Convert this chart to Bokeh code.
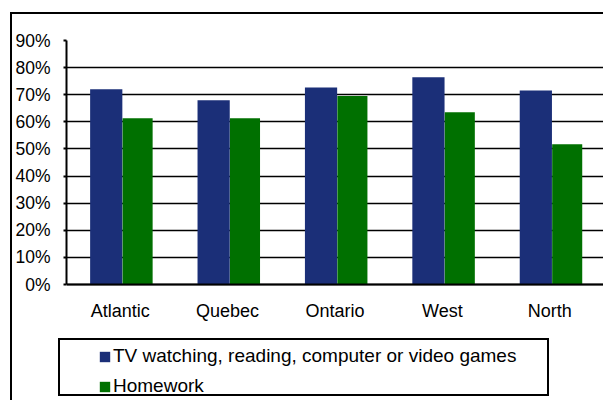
from bokeh.plotting import figure
from bokeh.models import (FactorRange, Range1d, FixedTicker, NumeralTickFormatter,
                          Legend, LegendItem, ColumnDataSource)
from bokeh.transform import dodge
from bokeh.embed import file_html
from bokeh.resources import INLINE

# ---- data ----
regions = ["Atlantic", "Quebec", "Ontario", "West", "North"]
leisure = [0.72, 0.68, 0.727, 0.764, 0.716]
homework = [0.613, 0.613, 0.695, 0.635, 0.517]
y_ticks = [0.0, 0.1, 0.2, 0.3, 0.4, 0.5, 0.6, 0.7, 0.8, 0.9]
series_names = ["TV watching, reading, computer or video games", "Homework"]

FONT = "Liberation Sans"
BLUE = "#1B2F78"
GREEN = "#007000"

source = ColumnDataSource(dict(region=regions, leisure=leisure, homework=homework))

# the frame reaches the bottom of the picture so that the legend can live inside it;
# the value axis covers 0..90 % over the top 244 px of the 360 px tall frame
p = figure(x_range=FactorRange(factors=regions, range_padding=0),
           y_range=Range1d(-0.9 * 116 / 244, 0.9),
           width=603, height=400, output_backend="svg", toolbar_location=None,
           min_border_left=66, min_border_right=0, min_border_top=40,
           min_border_bottom=0)

r1 = p.vbar(x=dodge("region", -0.13, range=p.x_range), top="leisure", width=0.30,
            source=source, fill_color=BLUE, line_color=None)
r2 = p.vbar(x=dodge("region", 0.162, range=p.x_range), top="homework", width=0.28,
            source=source, fill_color=GREEN, line_color=None)

p.outline_line_color = None
p.background_fill_color = None
p.border_fill_color = None

# chart frame (left/top edges only, the picture is cropped) and legend frame,
# painted as the page background behind the transparent canvas
layers = [
    ("2px 100%", "10px 12px"),      # outer frame, left edge
    ("100% 2px", "10px 12px"),      # outer frame, top edge
    ("2px 58px", "58px 338px"),     # legend frame, left
    ("2px 58px", "547px 338px"),    # legend frame, right
    ("491px 2px", "58px 338px"),    # legend frame, top
    ("491px 2px", "58px 394px"),    # legend frame, bottom
]
p.styles = {
    "background-color": "white",
    "background-image": ", ".join(["linear-gradient(#000, #000)"] * len(layers)),
    "background-size": ", ".join(s for s, _ in layers),
    "background-position": ", ".join(q for _, q in layers),
    "background-repeat": "no-repeat",
}

p.xgrid.grid_line_color = None
p.ygrid.ticker = FixedTicker(ticks=y_ticks)
p.ygrid.grid_line_color = "black"
p.ygrid.grid_line_width = 1.6
p.ygrid.level = "underlay"

p.yaxis.ticker = FixedTicker(ticks=y_ticks)
p.yaxis.bounds = (0, 0.9)
p.yaxis.formatter = NumeralTickFormatter(format="0%")
p.yaxis.axis_line_color = "black"
p.yaxis.axis_line_width = 2
p.yaxis.major_tick_out = 3
p.yaxis.major_tick_in = 0
p.yaxis.major_tick_line_width = 2
p.yaxis.minor_tick_line_color = None
p.yaxis.major_label_standoff = 13
p.yaxis.major_label_text_font = FONT
p.yaxis.major_label_text_font_size = "17.5px"
p.yaxis.major_label_text_color = "black"

p.xaxis.fixed_location = 0
p.xaxis.axis_line_color = "black"
p.xaxis.axis_line_width = 2
p.xaxis.major_tick_line_color = None
p.xaxis.major_tick_out = 0
p.xaxis.major_tick_in = 0
p.xaxis.minor_tick_line_color = None
p.xaxis.major_label_standoff = 16
p.xaxis.major_label_text_font = FONT
p.xaxis.major_label_text_font_size = "18px"
p.xaxis.major_label_text_color = "black"

legend = Legend(items=[LegendItem(label=series_names[0], renderers=[r1]),
                       LegendItem(label=series_names[1], renderers=[r2])],
                location=(32, 3), margin=0, padding=0, spacing=8,
                glyph_width=13, glyph_height=13, label_height=18,
                label_standoff=2,
                border_line_alpha=0, background_fill_alpha=0,
                label_text_font=FONT, label_text_font_size="19px",
                label_text_color="black")
p.add_layout(legend)

open("out.html", "w").write(file_html(p, INLINE))
